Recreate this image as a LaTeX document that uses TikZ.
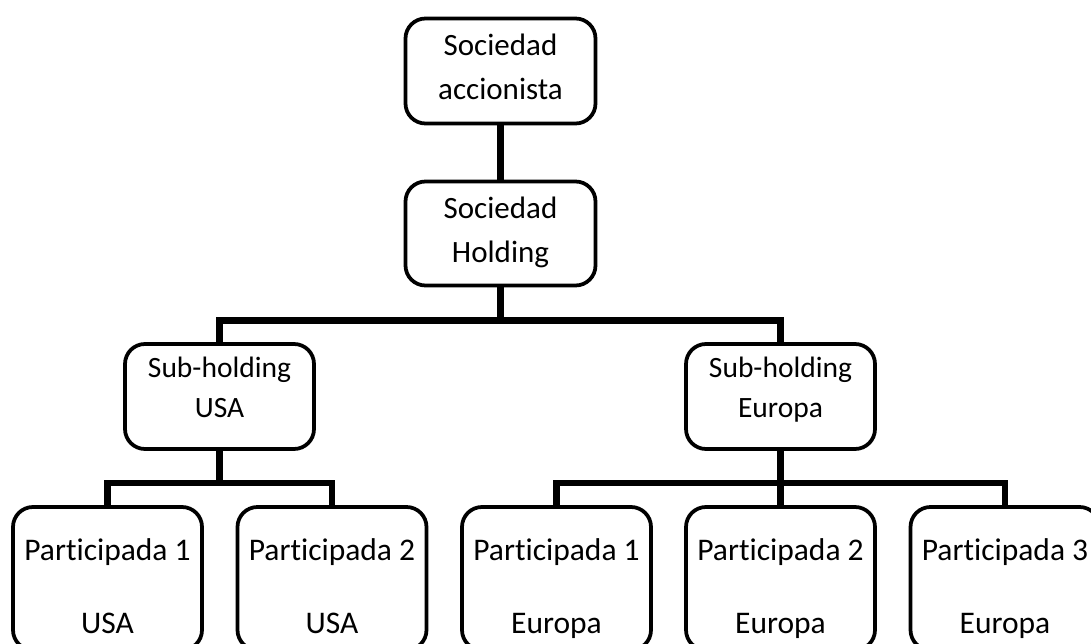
\documentclass[tikz,border=0pt]{standalone}
\usepackage{fontspec}
\setmainfont{Carlito}[Ligatures=NoCommon]
\begin{document}
\begin{tikzpicture}[x=1pt,y=-1pt,
  box/.style={draw=black, line width=3.75pt, rounded corners=20pt,
    fill=white, inner sep=0pt, align=center, minimum width=190pt},
  topbox/.style={box, minimum height=105pt, font={\fontsize{31}{44}\selectfont}},
  subbox/.style={box, minimum width=189pt, minimum height=105pt, font={\fontsize{29.5}{40}\selectfont}},
  leafbox/.style={box, minimum width=189pt, minimum height=143pt, font={\fontsize{31.5}{73}\selectfont}},
  conn/.style={draw=black, line width=6.5pt, line join=miter, line cap=butt}]
  \useasboundingbox (0,0) rectangle (1091,644);
  \clip (0,0) rectangle (1091,644);
  \fill[white] (0,0) rectangle (1091,644);

  % top of the structure
  \node[topbox] (acc) at (500.5,71)
    {\rule{0pt}{24pt}Sociedad\\accionista\rule[-10pt]{0pt}{10pt}};
  \node[topbox, minimum height=104pt] (hold) at (500.5,233.5)
    {\rule{0pt}{23pt}Sociedad\\Holding\rule[-10pt]{0pt}{10pt}};

  % regional sub-holdings
  \node[subbox] (usa) at (219.5,396.5)
    {\rule{0pt}{23pt}Sub-holding\\USA\rule[-22pt]{0pt}{22pt}};
  \node[subbox] (eur) at (780.5,396.5)
    {\rule{0pt}{23pt}Sub-holding\\Europa\rule[-22pt]{0pt}{22pt}};

  % participated companies
  \node[leafbox] (pu1) at (107.5,578.5)
    {\rule{0pt}{46pt}Participada 1\\USA\rule[-10pt]{0pt}{10pt}};
  \node[leafbox] (pu2) at (332,578.5)
    {\rule{0pt}{46pt}Participada 2\\USA\rule[-10pt]{0pt}{10pt}};
  \node[leafbox] (pe1) at (556.5,578.5)
    {\rule{0pt}{46pt}Participada 1\\Europa\rule[-10pt]{0pt}{10pt}};
  \node[leafbox] (pe2) at (780.5,578.5)
    {\rule{0pt}{46pt}Participada 2\\Europa\rule[-10pt]{0pt}{10pt}};
  \node[leafbox] (pe3) at (1005,578.5)
    {\rule{0pt}{46pt}Participada 3\\Europa\rule[-10pt]{0pt}{10pt}};

  % ownership lines
  \draw[conn] (acc.south) -- (hold.north);
  \draw[conn] (hold.south) -- ++(0,33) -| (usa.north);
  \draw[conn] (hold.south) -- ++(0,33) -| (eur.north);
  \draw[conn] (usa.south) -- ++(0,32) -| (pu1.north);
  \draw[conn] (usa.south) -- ++(0,32) -| (pu2.north);
  \draw[conn] (eur.south) -- ++(0,32) -| (pe1.north);
  \draw[conn] (eur.south) -- (pe2.north);
  \draw[conn] (eur.south) -- ++(0,32) -| (pe3.north);
\end{tikzpicture}
\end{document}
